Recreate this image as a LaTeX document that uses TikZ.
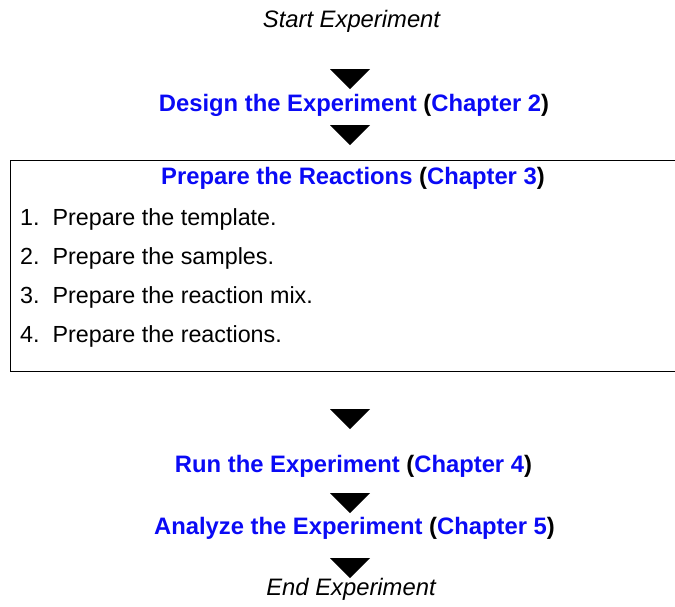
\documentclass[tikz,border=0pt]{standalone}
\usepackage{fontspec}
\setmainfont{Liberation Sans}
\usepackage{xcolor}
\usetikzlibrary{positioning}
\definecolor{chapBlue}{RGB}{10,10,245}

\tikzset{
  steptext/.style={font=\fontsize{23.8}{28}\selectfont\bfseries, text=chapBlue, anchor=base, inner sep=0pt},
  endtext/.style={font=\fontsize{23.8}{28}\selectfont\itshape, anchor=base, inner sep=0pt},
  itemtext/.style={font=\fontsize{23.3}{28}\selectfont, anchor=base west, inner sep=0pt}
}

\begin{document}
\begin{tikzpicture}[x=1pt, y=-1pt]
\useasboundingbox (0,0) rectangle (675,606);
\node[endtext] (start) at (351.5,27) {Start Experiment};
\node[steptext] (design) at (354,111.5) {Design the Experiment \textcolor{black}{(}Chapter 2\textcolor{black}{)}};
\draw[line width=1pt] (675,160.5) -- (10,160.5) -- (10,371) -- (675,371);
\node[steptext] (prepare) at (353,184) {Prepare the Reactions \textcolor{black}{(}Chapter 3\textcolor{black}{)}};
\node[itemtext] (item1) at (20,225) {1.\ \ Prepare the template.};
\node[itemtext] (item2) at (20,264) {2.\ \ Prepare the samples.};
\node[itemtext] (item3) at (20,303) {3.\ \ Prepare the reaction mix.};
\node[itemtext] (item4) at (20,342) {4.\ \ Prepare the reactions.};
\node[steptext] (run) at (353.5,472) {Run the Experiment \textcolor{black}{(}Chapter 4\textcolor{black}{)}};
\node[steptext] (analyze) at (354.5,534) {Analyze the Experiment \textcolor{black}{(}Chapter 5\textcolor{black}{)}};
\node[endtext] (finish) at (351,595) {End Experiment};
% arrow heads between the steps
\foreach \y in {69,125,409,493,558}
{
\fill (330,\y) -- (370,\y) -- (350,\y+20) -- cycle;
}
\end{tikzpicture}
\end{document}
